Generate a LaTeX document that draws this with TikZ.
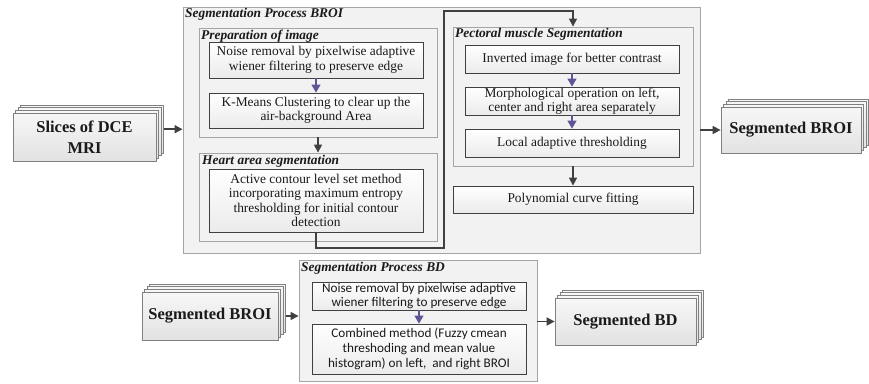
\documentclass[tikz,border=0pt]{standalone}
\usepackage{fontspec}
\setmainfont{Liberation Serif}
\newfontfamily\carl{Carlito}
\usetikzlibrary{arrows.meta,calc}
\definecolor{contfill}{HTML}{F2F2F2}
\definecolor{contdraw}{HTML}{A5A5A5}
\definecolor{boxdraw}{HTML}{404040}
\definecolor{boxbot}{HTML}{EBEBEB}
\definecolor{arrgray}{HTML}{404040}
\definecolor{purp}{HTML}{5E5597}
\definecolor{stkdraw}{HTML}{808080}
\definecolor{stktop}{HTML}{F7F7F7}
\definecolor{stkbot}{HTML}{E2E2E2}
\definecolor{txt}{HTML}{1A1A1A}
\newcommand\stk[6]{%
  \foreach \k in {3,2,1}{\node[stackbox, minimum width=#4pt, minimum height=#5pt] (#1-\k) at (#2+2.6*\k,#3-2.6*\k) {};}
  \node[stackbox, minimum width=#4pt, minimum height=#5pt] (#1) at (#2,#3) {#6};}
\begin{document}
\begin{tikzpicture}[x=1pt,y=-1pt,
  cont/.style={draw=contdraw, fill=contfill, line width=0.9pt, inner sep=0pt},
  ibox/.style={draw=boxdraw, top color=white, bottom color=boxbot, line width=0.8pt, align=center, inner sep=0pt, text=txt, font=\fontsize{13.4}{14.5}\selectfont},
  sbox/.style={ibox, font=\carl\fontsize{13.2}{14.8}\selectfont},
  stackbox/.style={draw=stkdraw, top color=stktop, bottom color=stkbot, line width=0.8pt, align=center, inner sep=0pt, text=txt, font=\bfseries\fontsize{16.5}{20.5}\selectfont},
  lbl/.style={anchor=north west, inner sep=0pt, text=txt, font=\bfseries\itshape\fontsize{13.4}{15}\selectfont},
  arr/.style={draw=arrgray, line width=1.6pt, -{Triangle[length=8pt,width=8pt]}},
  parr/.style={draw=purp, line width=1.2pt, -{Triangle[length=8pt,width=9pt]}}]
\useasboundingbox[fill=white] (0,0) rectangle (869,383);

% ---------- top row ----------
\stk{slices}{84.5}{137}{143}{48}{Slices of DCE\\MRI}

\node[cont, minimum width=517pt, minimum height=246pt] (broi) at (441.5,130) {};
\node[lbl] (broilbl) at (185,8.5) {Segmentation Process BROI};

\node[cont, minimum width=238pt, minimum height=109pt] (prep) at (318,82.5) {};
\node[lbl] (preplbl) at (201,29.5) {Preparation of image};
\node[ibox, minimum width=214pt, minimum height=36pt] (noise1) at (316,60) {Noise removal by pixelwise adaptive\\wiener filtering to preserve edge};
\node[ibox, minimum width=214pt, minimum height=35pt] (kmeans) at (316,110.5) {K-Means Clustering to clear up the\\air-background Area};

\node[cont, minimum width=238pt, minimum height=88pt] (heart) at (318,197) {};
\node[lbl] (heartlbl) at (202,154.5) {Heart area segmentation};
\node[ibox, minimum width=214pt, minimum height=63pt] (active) at (316,200.5) {Active contour level set method\\incorporating maximum entropy\\thresholding for initial contour\\detection};

\node[cont, minimum width=240pt, minimum height=139pt] (pect) at (573,96.5) {};
\node[lbl] (pectlbl) at (455,28.5) {Pectoral muscle Segmentation};
\node[ibox, minimum width=214pt, minimum height=28pt] (inv) at (572,59) {Inverted image for better contrast};
\node[ibox, minimum width=214pt, minimum height=28pt] (morph) at (572,101) {Morphological operation on left,\\center and right area separately};
\node[ibox, minimum width=214pt, minimum height=28pt] (local) at (572,143) {Local adaptive thresholding};
\node[ibox, minimum width=240pt, minimum height=27pt] (poly) at (573,199.5) {Polynomial curve fitting};

\stk{segbroi}{791}{130}{140}{46}{Segmented BROI}

\draw[parr] (noise1.south) -- (kmeans.north);
\draw[arr] (prep.south) -- (heart.north);
\draw[parr] (inv.south) -- (morph.north);
\draw[parr] (morph.south) -- (local.north);
\draw[arr] (pect.south) -- (poly.north);
\coordinate (c1) at (444,248);
\coordinate (c2) at (444,11);
\draw[arr] (active.south) |- (c1) -- (c2) -| (pect.north);
\draw[arr] (slices-3.east) -- (broi.west |- slices-3.east);
\draw[arr] (broi.east |- segbroi.west) -- (segbroi.west);

% ---------- bottom row ----------
\stk{segbroib}{210}{316}{136}{48}{Segmented BROI}
\node[cont, minimum width=238pt, minimum height=121pt] (bd) at (418,320.5) {};
\node[lbl] (bdlbl) at (301,262) {Segmentation Process BD};
\node[sbox, minimum width=214pt, minimum height=28pt] (bdnoise) at (419,296) {Noise removal by pixelwise adaptive\\wiener filtering to preserve edge};
\node[sbox, minimum width=214pt, minimum height=50pt] (bdcomb) at (419,349) {Combined method (Fuzzy cmean\\threshoding and mean value\\histogram) on left,\ \ and right BROI};
\stk{segbd}{625.5}{321.5}{141}{47}{Segmented BD}

\draw[parr] (bdnoise.south) -- (bdcomb.north);
\draw[arr] (segbroib-3.east |- segbroib.east) -- (bd.west |- segbroib.east);
\draw[arr] (bd.east |- segbd.west) -- (segbd.west);
\end{tikzpicture}
\end{document}
